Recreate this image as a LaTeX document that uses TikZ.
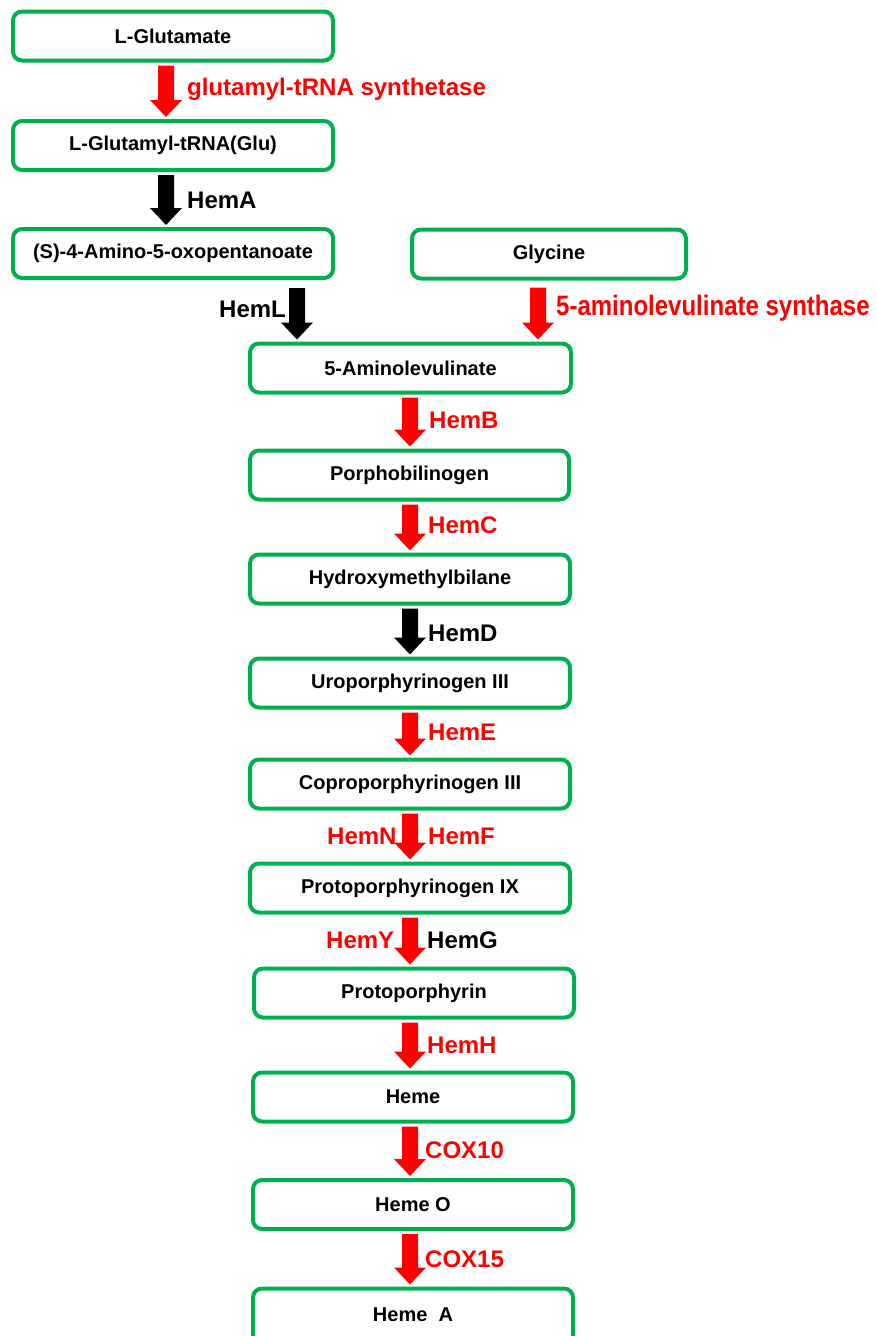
\documentclass[tikz,border=0pt]{standalone}
\usepackage{fontspec}
\setmainfont{Liberation Sans}
\usepackage{graphicx}
\usetikzlibrary{calc}
\definecolor{boxgreen}{RGB}{0,176,80}
\definecolor{enzred}{RGB}{255,0,0}
% block arrow: colour, x-coordinate name, from node, to node, top gap (pt)
\newcommand\blkarrow[5]{%
  \fill[#1] let \p1=(#3.south -| #2), \p2=(#4.north -| #2) in
    (\x1-8pt,\y1-#5pt) -- (\x1+8pt,\y1-#5pt) -- (\x1+8pt,\y2+19pt) --
    (\x1+16pt,\y2+19pt) -- (\x1,\y2+2pt) -- (\x1-16pt,\y2+19pt) --
    (\x1-8pt,\y2+19pt) -- cycle;}
\begin{document}
\begin{tikzpicture}[x=1pt,y=-1pt,
  box/.style={draw=boxgreen, line width=4pt, rounded corners=9pt, fill=white,
    minimum height=49pt, minimum width=320pt, inner sep=0pt,
    font=\fontsize{20}{24}\selectfont\bfseries},
  enz/.style={anchor=base west, inner sep=0pt, font=\fontsize{24}{28}\selectfont\bfseries},
  enzr/.style={enz, text=enzred},
  enzk/.style={enz, text=black}]
\useasboundingbox (0,0) rectangle (877,1336);
% column coordinates
\coordinate (cA) at (166,0);
\coordinate (cL) at (297,0);
\coordinate (cG) at (538,0);
\coordinate (cM) at (410,0);
% boxes
\node[box] (glu)   at (173,36)    {L-Glutamate};
\node[box] (gtr)   at (173,145.5) {L-Glutamyl-tRNA(Glu)};
\node[box] (amino) at (173,253.5) {(S)-4-Amino-5-oxopentanoate};
\node[box, minimum width=274pt] (gly) at (549,254) {Glycine};
\node[box, minimum width=321pt] (ala) at (410.5,368) {5-Aminolevulinate};
\node[box, minimum width=319pt] (pbg) at (409.5,475) {Porphobilinogen};
\node[box] (hmb)   at (410,579)  {Hydroxymethylbilane};
\node[box] (uro)   at (410,683)  {Uroporphyrinogen III};
\node[box] (copro) at (410,784)  {Coproporphyrinogen III};
\node[box] (protogen) at (410,888) {Protoporphyrinogen IX};
\node[box] (protop) at (414,993) {Protoporphyrin};
\node[box] (heme)  at (413,1097) {Heme};
\node[box] (hemeO) at (413,1204.5) {Heme O};
\node[box, minimum height=55pt] (hemeA) at (413,1316) {\raisebox{3pt}{Heme~~A}};
% arrows
\blkarrow{enzred}{cA}{glu}{gtr}{3}
\blkarrow{black}{cA}{gtr}{amino}{3}
\blkarrow{black}{cL}{amino}{ala}{8}
\blkarrow{enzred}{cG}{gly}{ala}{7}
\blkarrow{enzred}{cM}{ala}{pbg}{3}
\blkarrow{enzred}{cM}{pbg}{hmb}{3}
\blkarrow{black}{cM}{hmb}{uro}{3}
\blkarrow{enzred}{cM}{uro}{copro}{3}
\blkarrow{enzred}{cM}{copro}{protogen}{3}
\blkarrow{enzred}{cM}{protogen}{protop}{3}
\blkarrow{enzred}{cM}{protop}{heme}{3}
\blkarrow{enzred}{cM}{heme}{hemeO}{3}
\blkarrow{enzred}{cM}{hemeO}{hemeA}{3}
% enzyme labels
\node[enzr] (e1) at (187,95) {glutamyl-tRNA synthetase};
\node[enzk] (e2) at (187,208) {HemA};
\node[enzk] (e3) at (219,317) {HemL};
\node[enzr] (e4) at (556,315) {\scalebox{1}[1.17]{5-aminolevulinate synthase}};
\node[enzr] (e5) at (429,428) {HemB};
\node[enzr] (e6) at (428,533) {HemC};
\node[enzk] (e7) at (428,641) {HemD};
\node[enzr] (e8) at (428,740) {HemE};
\node[enzr] (e9) at (327,844) {HemN};
\node[enzr] (e10) at (428,844) {HemF};
\node[enzr] (e11) at (326,948) {HemY};
\node[enzk] (e12) at (427,948) {HemG};
\node[enzr] (e13) at (427,1053) {HemH};
\node[enzr] (e14) at (425,1158) {COX10};
\node[enzr] (e15) at (425,1267) {COX15};
\end{tikzpicture}
\end{document}
